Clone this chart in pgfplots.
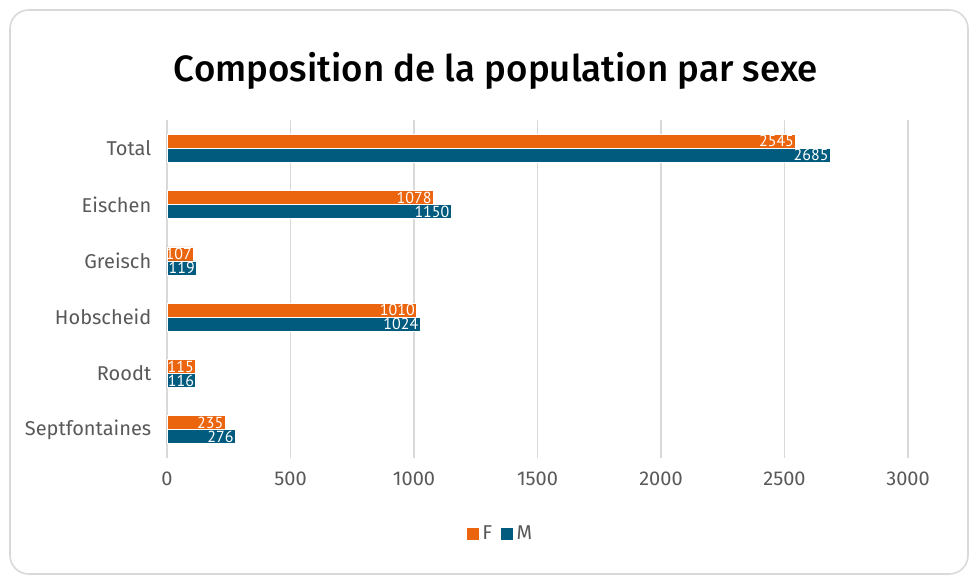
\documentclass[border=0pt]{standalone}
\usepackage{pgfplots}
\pgfplotsset{compat=1.18}
\usepackage{fontspec}
\setmainfont{Fira Sans}
\newfontfamily\titlefont{Fira Sans}[UprightFont=* Medium]
\newfontfamily\condfont{PT Sans}
\definecolor{cF}{HTML}{EB650E}
\definecolor{cM}{HTML}{005B7F}
\definecolor{txt}{HTML}{595959}
\definecolor{grd}{HTML}{D9D9D9}
\begin{document}
\begin{tikzpicture}
\path[use as bounding box] (0pt,0pt) rectangle (729pt,436.5pt);
\draw[grd, line width=1.2pt, rounded corners=14pt] (7.5pt,6pt) rectangle (726pt,429pt);
\node[font=\titlefont\fontsize{27.5}{30}\selectfont, text=black] at (372pt,383pt) {Composition de la population par sexe};
\begin{axis}[
  at={(125.25pt,93pt)}, anchor=south west,
  scale only axis, width=555.75pt, height=253.5pt,
  xbar, bar width=10.5pt,
  xmin=0, xmax=3000, ymin=-0.5, ymax=5.5,
  xtick={0,500,...,3000},
  ytick={0,1,2,3,4,5},
  yticklabels={Septfontaines,Roodt,Hobscheid,Greisch,Eischen,Total},
  axis line style={draw=none},
  tick style={draw=none},
  xmajorgrids, grid style={grd, line width=0.9pt},
  ticklabel style={text=txt, font=\fontsize{15}{18}\selectfont},
  /pgf/number format/assume math mode=true,
  /pgf/number format/1000 sep={},
  xticklabel style={yshift=-7pt},
  yticklabel style={xshift=-4pt},
  nodes near coords,
  nodes near coords style={anchor=east, text=white, inner sep=1pt, font=\condfont\fontsize{12}{12}\selectfont},
  legend style={at={(0.45,-0.185)}, anchor=north, draw=none, legend columns=2, font=\fontsize{15}{18}\selectfont, text=txt, /tikz/every even column/.append style={column sep=4pt}, /tikz/every odd column/.append style={column sep=0pt}},
  legend image code/.code={\fill[#1] (0pt,-4.8pt) rectangle (9.8pt,5pt);},
]
\addplot[fill=cF, draw=white, line width=0.5pt, bar shift=5.25pt] coordinates {(235,0) (115,1) (1010,2) (107,3) (1078,4) (2545,5)};
\addplot[fill=cM, draw=white, line width=0.5pt, bar shift=-5.25pt] coordinates {(276,0) (116,1) (1024,2) (119,3) (1150,4) (2685,5)};
\legend{F,M}
\end{axis}
\end{tikzpicture}
\end{document}
